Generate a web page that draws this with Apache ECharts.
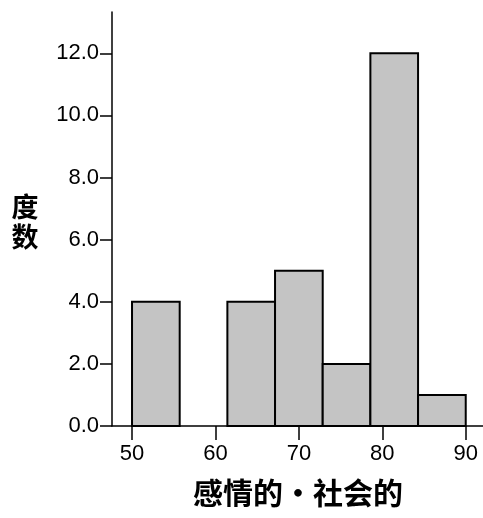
<!DOCTYPE html>
<html>
<head>
<meta charset="utf-8">
<script src="https://cdn.jsdelivr.net/npm/echarts@6/dist/echarts.min.js"></script>
<style>
html,body{margin:0;padding:0;background:#fff;}
#c{width:483px;height:518px;}
</style>
</head>
<body>
<div id="c"></div>
<script>
const binEdges = [50, 55.714, 61.429, 67.143, 72.857, 78.571, 84.286, 90];
const counts = [4, 0, 4, 5, 2, 12, 1];
const xTicks = [50, 60, 70, 80, 90];
const yTicks = [0, 2, 4, 6, 8, 10, 12];
const xTitle = '感情的・社会的';
const yTitle = '度\n数';

const data = [];
for (let i = 0; i < counts.length; i++) {
  if (counts[i] > 0) data.push([binEdges[i], binEdges[i + 1], counts[i]]);
}

const chart = echarts.init(document.getElementById('c'), null, {renderer: 'canvas'});
chart.setOption({
  animation: false,
  backgroundColor: '#fff',
  grid: {left: 112, right: 0, top: 12, bottom: 92, containLabel: false, outerBoundsMode: 'none'},
  xAxis: {
    type: 'value', min: 47.6, max: 92.07,
    axisLine: {show: true, lineStyle: {color: '#000', width: 1.5}},
    axisTick: {show: true, customValues: xTicks, length: 14, lineStyle: {color: '#000', width: 1.5}},
    axisLabel: {customValues: xTicks, margin: 17, fontSize: 22, color: '#000', fontFamily: 'Liberation Sans'},
    splitLine: {show: false}
  },
  yAxis: {
    type: 'value', min: 0, max: 13.33,
    axisLine: {show: true, lineStyle: {color: '#000', width: 1.5}},
    axisTick: {show: true, customValues: yTicks, length: 12, lineStyle: {color: '#000', width: 1.5}},
    axisLabel: {customValues: yTicks, margin: 13, fontSize: 22, color: '#000', fontFamily: 'Liberation Sans',
      formatter: v => Number(v).toFixed(1)},
    splitLine: {show: false}
  },
  graphic: [
    {type: 'text', style: {text: xTitle, x: 298, y: 493, align: 'center', verticalAlign: 'middle',
      font: 'bold 30px "Noto Sans CJK SC"', fill: '#000'}},
    {type: 'text', style: {text: yTitle, x: 25, y: 222, align: 'center', verticalAlign: 'middle', lineHeight: 30,
      font: 'bold 27px "Noto Sans CJK SC"', fill: '#000'}}
  ],
  series: [{
    type: 'custom',
    data: data,
    encode: {x: [0, 1], y: 2},
    renderItem: function (params, api) {
      const p0 = api.coord([api.value(0), api.value(2)]);
      const p1 = api.coord([api.value(1), 0]);
      return {
        type: 'rect',
        shape: {x: p0[0], y: p0[1], width: p1[0] - p0[0], height: p1[1] - p0[1]},
        style: {fill: '#c4c4c4', stroke: '#000', lineWidth: 2}
      };
    }
  }]
});
</script>
</body>
</html>
